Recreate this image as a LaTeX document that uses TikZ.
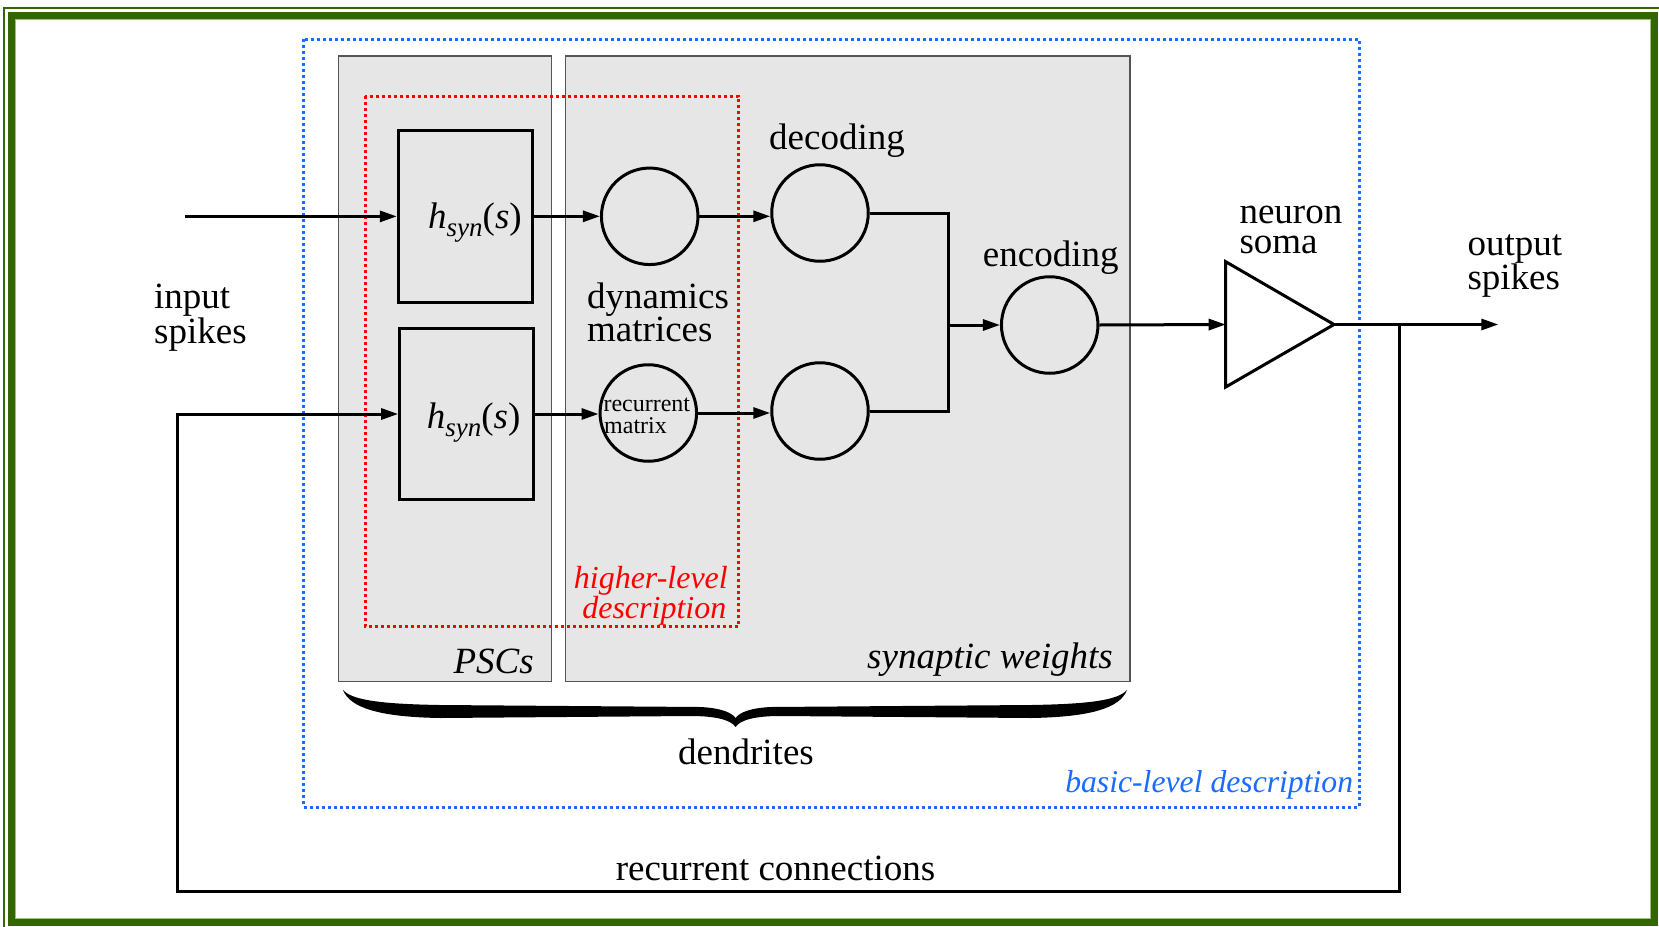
\documentclass[tikz,border=0pt]{standalone}
\usepackage{fontspec}
\setmainfont{Liberation Serif}
\usetikzlibrary{arrows.meta}

\definecolor{frameGreen}{HTML}{336600}
\definecolor{frameLight}{HTML}{9CBF7A}
\definecolor{boxGray}{HTML}{E6E6E6}
\definecolor{boxEdge}{HTML}{555555}
\definecolor{lvlBlue}{HTML}{1A6BFF}
\definecolor{lvlRed}{HTML}{FF0000}

\tikzset{
  wire/.style={line width=3pt},
  arr/.style={wire, -{Triangle[length=17pt,width=11pt]}},
  stage/.style={draw, line width=3pt, rectangle, inner sep=0pt},
  circ/.style={draw, line width=3pt, circle, inner sep=0pt, minimum size=96.5pt},
  panel/.style={fill=boxGray, draw=boxEdge, line width=1.4pt},
  lbl/.style={inner sep=0pt, font=\fontsize{37}{40}\selectfont},
  ilbl/.style={inner sep=0pt, font=\fontsize{37}{40}\selectfont\itshape},
  small/.style={inner sep=0pt, font=\fontsize{24}{26}\selectfont},
  dots/.style={line width=3pt, dash pattern=on 3pt off 3pt},
}

\newcommand{\hsyn}{\textit{h}\raisebox{-8pt}{\fontsize{27}{27}\selectfont\textit{syn}}(\textit{s})}

\begin{document}
\begin{tikzpicture}[x=1pt, y=-1pt]
\useasboundingbox (0,0) rectangle (1659,926);

% double green frame
\draw[frameGreen, line width=1.5pt] (4.2,8) rectangle (1675,945);
\draw[frameGreen, line width=7pt] (11.5,15.5) rectangle (1654.5,922.5);
\draw[frameLight, line width=0.9pt] (15.6,19.6) rectangle (1650.4,918.4);

% shaded panels: PSCs and synaptic weights
\draw[panel] (338.3,56) rectangle (551.7,681.5);
\draw[panel] (565.7,56) rectangle (1130,681.5);

% description levels
\draw[lvlRed, dots] (365,96) rectangle (738.3,626.5);
\draw[lvlBlue, dots] (303.3,39.3) rectangle (1359,807);

% synaptic filters
\node[stage, minimum width=134pt, minimum height=171.3pt] (hA) at (465.3,216.6) {};
\node[stage, minimum width=134.3pt, minimum height=171.4pt] (hB) at (466.8,414) {};
\node[lbl, anchor=base west] (hAtxt) at (428,228.3) {\hsyn};
\node[lbl, anchor=base west] (hBtxt) at (426.7,428.3) {\hsyn};

% matrices
\node[circ] (dynA) at (649.7,216.3) {};
\node[circ] (recB) at (648.3,413) {};
\node[circ] (decA) at (820,213) {};
\node[circ] (decB) at (820,411) {};
\node[circ] (enc)  at (1049.7,325) {};

% soma
\coordinate (somaIn)  at (1225.7,324.5);
\coordinate (somaOut) at (1334,324.5);
\draw[wire, line join=miter] (1225.7,261.7) -- (somaOut) -- (1225.7,387) -- cycle;

% connectors
\coordinate (inStart) at (185,216.4);
\draw[arr] (inStart) -- (inStart -| hA.west);
\draw[arr] (hA.east |- dynA.west) -- (dynA.west);
\draw[arr] (dynA.east) -- (dynA.east -| decA.west);
\draw[arr] (hB.east) -- (hB.east -| recB.west);
\draw[arr] (recB.east) -- (recB.east -| decB.west);
\coordinate (join) at (948.3,325);
\draw[wire] (decA.east) -| (join) |- (decB.east);
\draw[arr] (join) -- (enc.west);
\draw[arr] (enc.east) -- (somaIn);
\coordinate (outEnd) at (1498.3,324.5);
\draw[arr] (somaOut) -- (outEnd);
\coordinate (tap) at (1399.3,324.5);
\coordinate (fbR) at (1399.3,891.3);
\coordinate (fbL) at (177.7,891.3);
\draw[arr] (tap) -- (fbR) -- (fbL) |- (hB.west);

% dendrites brace
\fill (343,690) .. controls (352,700) and (380,704) .. (440,705) -- (700,707)
  .. controls (722,708) and (732,713) .. (735.6,718)
  .. controls (739,713) and (749,708) .. (771,707) -- (1031,705)
  .. controls (1091,704) and (1118,700) .. (1127,690)
  .. controls (1120,708) and (1091,717) .. (1031,718) -- (780,716)
  .. controls (755,716) and (740,720) .. (735.6,727)
  .. controls (731,720) and (716,716) .. (691,716) -- (440,718)
  .. controls (380,717) and (350,708) .. (343,690) -- cycle;

% labels
\node[lbl, anchor=base west] (tDec) at (769,149.5) {decoding};
\node[lbl, anchor=base west] (tDyn1) at (587,308) {dynamics};
\node[lbl, anchor=base west] (tDyn2) at (587,341.7) {matrices};
\node[small, anchor=base west] (tRec1) at (603.3,411.7) {recurrent};
\node[small, anchor=base west] (tRec2) at (604,433.3) {matrix};
\node[lbl, anchor=base west] (tEnc) at (982.7,266) {encoding};
\node[lbl, anchor=base west] (tSoma) at (1239.3,253.3)
  {\vbox{\baselineskip=30pt \lineskiplimit=-100pt \hbox{neuron}\hbox{soma}}};
\node[lbl, anchor=base west] (tOut1) at (1467.3,255) {output};
\node[lbl, anchor=base west] (tOut2) at (1467.3,289) {spikes};
\node[lbl, anchor=base west] (tIn1) at (154,308) {input};
\node[lbl, anchor=base west] (tIn2) at (154,343) {spikes};
\node[inner sep=0pt, font=\fontsize{32}{34}\selectfont\itshape, text=lvlRed, anchor=base east] (tHi1) at (728,588) {higher-level};
\node[inner sep=0pt, font=\fontsize{32}{34}\selectfont\itshape, text=lvlRed, anchor=base east] (tHi2) at (726.5,618) {description};
\node[ilbl, anchor=base east] (tPsc) at (534,673.3) {PSCs};
\node[ilbl, anchor=base east] (tSyn) at (1113,668) {synaptic weights};
\node[lbl, anchor=base] (tDen) at (746,764) {dendrites};
\node[inner sep=0pt, font=\fontsize{31.7}{34}\selectfont\itshape, text=lvlBlue, anchor=base east] (tBasic) at (1353.3,792.7) {basic-level description};
\node[lbl, anchor=base] (tRecConn) at (775.5,880) {recurrent connections};
\end{tikzpicture}
\end{document}
